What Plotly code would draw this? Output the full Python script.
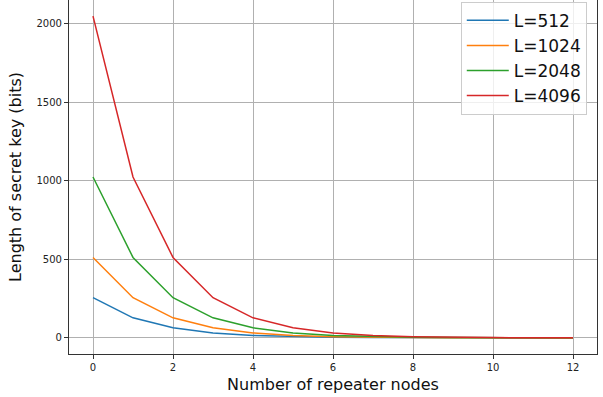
import plotly.graph_objects as go

nodes = list(range(13))
key_512 = [256, 128, 64, 32, 16, 8, 4, 2, 1, 0.5, 0.25, 0.125, 0.0625]
key_1024 = [512, 256, 128, 64, 32, 16, 8, 4, 2, 1, 0.5, 0.25, 0.125]
key_2048 = [1024, 512, 256, 128, 64, 32, 16, 8, 4, 2, 1, 0.5, 0.25]
key_4096 = [2048, 1024, 512, 256, 128, 64, 32, 16, 8, 4, 2, 1, 0.5]
names = ["L=512", "L=1024", "L=2048", "L=4096"]
colors = ["#1f77b4", "#ff7f0e", "#2ca02c", "#d62728"]

fig = go.Figure()
for name, ys, c in zip(names, [key_512, key_1024, key_2048, key_4096], colors):
    fig.add_trace(go.Scatter(x=nodes, y=ys, mode="lines", name=name,
                             line=dict(color=c, width=1.5)))

axis_common = dict(showgrid=True, gridcolor="#b0b0b0", gridwidth=1,
                   showline=True, linecolor="#333333", linewidth=1.2, mirror=True,
                   ticks="outside", ticklen=4, tickcolor="#333333",
                   tickfont=dict(family="DejaVu Sans", size=10, color="#222"),
                   zeroline=False)
fig.update_xaxes(range=[-0.6, 12.6], tickvals=[0, 2, 4, 6, 8, 10, 12],
                 title=dict(text="Number of repeater nodes", font=dict(family="DejaVu Sans", size=16, color="#111"), standoff=6),
                 **axis_common)
fig.update_yaxes(range=[-102.4, 2150.4], tickvals=[0, 500, 1000, 1500, 2000],
                 title=dict(text="Length of secret key (bits)", font=dict(family="DejaVu Sans", size=16, color="#111"), standoff=10),
                 **axis_common)
fig.update_layout(
    width=603, height=397,
    margin=dict(l=69, r=6, t=0, b=43),
    plot_bgcolor="white", paper_bgcolor="white",
    legend=dict(x=0.742, y=0.995, xanchor="left", yanchor="top",
                bgcolor="rgba(255,255,255,0.8)", bordercolor="#cccccc", borderwidth=1,
                font=dict(family="DejaVu Sans", size=17, color="#111"),
                tracegroupgap=0, itemwidth=42),
)
fig.write_html("out.html", config={"displayModeBar": False},
               post_script="document.body.style.margin='0';document.body.style.overflow='hidden';")
